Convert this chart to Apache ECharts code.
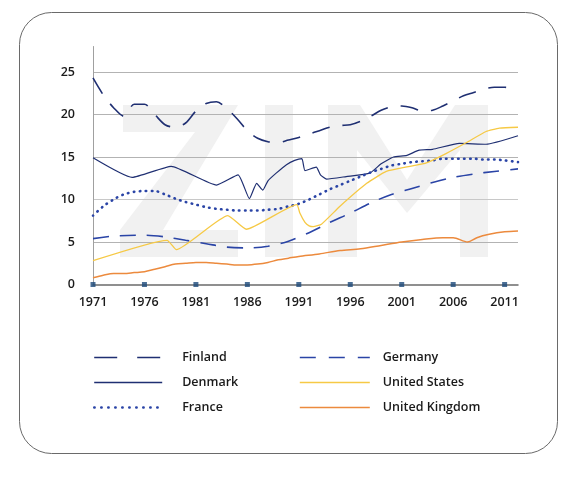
<!DOCTYPE html>
<html>
<head>
<meta charset="utf-8">
<script src="https://cdn.jsdelivr.net/npm/echarts@6/dist/echarts.min.js"></script>
<style>
html,body{margin:0;padding:0;background:#fff;}
#main{width:574px;height:477px;}
</style>
</head>
<body>
<div id="main"></div>
<script>
// ---- data ----
var xTickYears = [1971, 1976, 1981, 1986, 1991, 1996, 2001, 2006, 2011];
var yTickValues = [0, 5, 10, 15, 20, 25];

var finlandYears = [1971,1972,1973,1974,1975,1976,1977,1978,1979,1980,1981,1982,1983,1984,1985,1986,1987,1988,1989,1990,1991,1992,1993,1994,1995,1996,1997,1998,1999,2000,2001,2002,2003,2004,2005,2006,2007,2008,2009,2010,2011,2012.3];
var finlandValues = [24.3,22.3,20.8,19.8,21.2,21.2,20.0,18.8,18.5,19.0,20.4,21.3,21.5,20.7,19.5,18.1,17.2,16.8,16.7,17.0,17.3,17.7,18.1,18.5,18.7,18.8,19.2,19.8,20.5,20.9,21.0,20.8,20.4,20.5,21.0,21.6,22.2,22.6,23.0,23.2,23.2,23.1];

var denmarkYears = [1971,1974.8,1978.6,1983,1985.1,1986.2,1986.9,1987.5,1988,1988.8,1989.8,1990.6,1991.3,1991.6,1992.7,1993.1,1993.7,1995.6,1997.9,1999,2000.2,2001.5,2002.7,2004,2006.6,2009.2,2012.3];
var denmarkValues = [14.9,12.6,13.9,11.7,12.9,10.1,11.9,11.1,12.2,13.1,14.1,14.6,14.8,13.4,13.8,12.9,12.4,12.7,13.1,14.2,15.0,15.2,15.8,15.9,16.6,16.5,17.5];

var franceYears = [1971,1972,1973,1974,1975,1976,1977,1978,1979,1980,1981,1982,1983,1984,1985,1986,1987,1988,1989,1990,1991,1992,1993,1994,1995,1996,1997,1998,1999,2000,2001,2002,2003,2004,2005,2006,2007,2008,2009,2010,2011,2012.3];
var franceValues = [8.1,9.2,10.0,10.6,10.9,11.0,11.0,10.6,10.1,9.7,9.4,9.1,8.9,8.8,8.7,8.7,8.7,8.8,8.9,9.2,9.5,10.0,10.6,11.2,11.7,12.2,12.7,13.2,13.6,14.0,14.2,14.4,14.5,14.6,14.8,14.8,14.8,14.8,14.7,14.7,14.6,14.4];

var germanyYears = [1971,1973,1976,1978,1980,1982,1984,1986,1988,1990,1992,1994,1996,1998,2000,2002,2004,2006,2008,2010,2012.3];
var germanyValues = [5.4,5.7,5.8,5.6,5.2,4.8,4.4,4.3,4.5,5.1,6.1,7.3,8.4,9.6,10.6,11.3,12.0,12.6,13.0,13.3,13.6];

var usYears = [1971,1978.2,1979.1,1984.1,1985.9,1990.8,1991.1,1991.6,1992,1992.4,1993.2,1995,1997.6,1999.5,2001.8,2003.4,2005.3,2007.3,2009.2,2010.5,2012.3];
var usValues = [2.8,5.2,4.1,8.1,6.5,9.4,8.4,7.3,6.9,6.8,7.1,9.2,11.9,13.3,13.9,14.3,15.4,16.7,18.0,18.4,18.5];

var ukYears = [1971,1972,1973,1974,1975,1976,1977,1978,1979,1980,1981,1982,1983,1984,1985,1986,1987,1988,1989,1990,1991,1993,1995,1997,1999,2001,2003,2005,2006,2007.4,2008.3,2009.5,2011,2012.3];
var ukValues = [0.8,1.1,1.3,1.3,1.4,1.5,1.8,2.1,2.4,2.5,2.6,2.6,2.5,2.4,2.3,2.3,2.4,2.6,2.9,3.1,3.3,3.6,4.0,4.2,4.6,5.0,5.3,5.5,5.5,5.0,5.5,5.9,6.2,6.3];

var seriesNames = ['Finland','Denmark','France','Germany','United States','United Kingdom'];

function pairs(xs, ys){ return xs.map(function(x,i){ return [x, ys[i]]; }); }

var navy = '#1f2f72';
var blue = '#2a44a6';
var yellow = '#f6c945';
var orange = '#ec8a3d';
var font = 'Open Sans';
var wm = '#f1f1f1';
var noSymbol = { color:'rgba(0,0,0,0)', borderWidth:0, opacity:0 };

var chart = echarts.init(document.getElementById('main'), null, {renderer:'canvas'});

var option = {
  backgroundColor: '#ffffff',
  animation: false,
  graphic: [
    { type:'rect', z:-100, silent:true, shape:{x:19.5,y:12.5,width:538,height:441,r:32}, style:{fill:'#ffffff', stroke:'#6a6a6a', lineWidth:1} },
    { type:'polygon', z:-90, silent:true, shape:{points:[[123,105],[238,105],[163,230],[238,230],[238,257],[120,257],[120,230],[195,132],[123,132]]}, style:{fill:wm} },
    { type:'rect', z:-90, silent:true, shape:{x:265,y:105,width:28,height:152}, style:{fill:wm} },
    { type:'polygon', z:-90, silent:true, shape:{points:[[328,105],[360,105],[407,180],[455,105],[488,105],[488,257],[460,257],[460,150],[407,213],[357,150],[357,257],[328,257]]}, style:{fill:wm} }
  ],
  grid: { left:93, right:56, top:46.5, bottom:192.5, containLabel:false },
  xAxis: {
    type:'value', min:1971, max:2012.3, interval:5,
    axisLine:{ show:true, lineStyle:{ color:'#6b6b6b', width:1.5 } },
    axisTick:{ show:false },
    splitLine:{ show:false },
    axisLabel:{
      margin:11, color:'#1a1a1a', fontFamily:font, fontWeight:600, fontSize:12.5,
      formatter:function(v){ return xTickYears.indexOf(v) >= 0 ? String(v) : ''; }
    }
  },
  yAxis: {
    type:'value', min:0, max:28, interval:5,
    axisLine:{ show:true, lineStyle:{ color:'#a0a0a0', width:1 } },
    axisTick:{ show:false },
    splitLine:{ show:true, lineStyle:{ color:['rgba(0,0,0,0)','#b3b3b3','#c8c8c8','#b3b3b3','#b3b3b3','#b3b3b3','rgba(0,0,0,0)'], width:1 } },
    axisLabel:{
      margin:18, color:'#1a1a1a', fontFamily:font, fontWeight:600, fontSize:12.5,
      formatter:function(v){ return yTickValues.indexOf(v) >= 0 ? String(v) : ''; }
    }
  },
  legend: [
    {
      orient:'vertical', left:88, top:346, itemWidth:68, itemHeight:14, itemGap:12,
      itemStyle: noSymbol,
      textStyle:{ color:'#1a1a1a', fontFamily:font, fontWeight:600, fontSize:12.5, padding:[0,0,0,15] },
      data:[
        { name:'Finland', itemStyle:noSymbol, lineStyle:{ type:[23,20], width:1.6, color:navy } },
        { name:'Denmark', itemStyle:noSymbol, lineStyle:{ type:'solid', width:1.3, color:navy } },
        { name:'France', itemStyle:noSymbol, lineStyle:{ type:[0.5,6.5], width:2.4, cap:'round', color:blue } }
      ]
    },
    {
      orient:'vertical', left:294, top:346, itemWidth:70, itemHeight:14, itemGap:12,
      itemStyle: noSymbol,
      textStyle:{ color:'#1a1a1a', fontFamily:font, fontWeight:600, fontSize:12.5, padding:[0,0,0,8] },
      data:[
        { name:'Germany', itemStyle:noSymbol, lineStyle:{ type:[16,13], width:1.6, color:blue } },
        { name:'United States', itemStyle:noSymbol, lineStyle:{ type:'solid', width:1.3, color:yellow } },
        { name:'United Kingdom', itemStyle:noSymbol, lineStyle:{ type:'solid', width:1.6, color:orange } }
      ]
    }
  ],
  series: [
    { name:seriesNames[0], type:'line', data:pairs(finlandYears, finlandValues), smooth:0.3, symbol:'none', z:3,
      lineStyle:{ color:navy, width:1.6, type:[18,13] }, itemStyle:{ color:navy } },
    { name:seriesNames[1], type:'line', data:pairs(denmarkYears, denmarkValues), smooth:0.15, symbol:'none', z:3,
      lineStyle:{ color:navy, width:1.2, type:'solid' }, itemStyle:{ color:navy } },
    { name:seriesNames[2], type:'line', data:pairs(franceYears, franceValues), smooth:0.3, symbol:'none', z:3,
      lineStyle:{ color:blue, width:2.6, type:[0.5,5.5], cap:'round' }, itemStyle:{ color:blue } },
    { name:seriesNames[3], type:'line', data:pairs(germanyYears, germanyValues), smooth:0.3, symbol:'none', z:3,
      lineStyle:{ color:blue, width:1.6, type:[16,11] }, itemStyle:{ color:blue } },
    { name:seriesNames[4], type:'line', data:pairs(usYears, usValues), smooth:0.15, symbol:'none', z:3,
      lineStyle:{ color:yellow, width:1.3 }, itemStyle:{ color:yellow } },
    { name:seriesNames[5], type:'line', data:pairs(ukYears, ukValues), smooth:0.3, symbol:'none', z:3,
      lineStyle:{ color:orange, width:1.5 }, itemStyle:{ color:orange } },
    { name:'ticks', type:'scatter', data:xTickYears.map(function(y){ return [y, 0]; }), symbol:'rect', symbolSize:5,
      itemStyle:{ color:'#1d4a7a' }, z:5, silent:true }
  ]
};
chart.setOption(option);
</script>
</body>
</html>
